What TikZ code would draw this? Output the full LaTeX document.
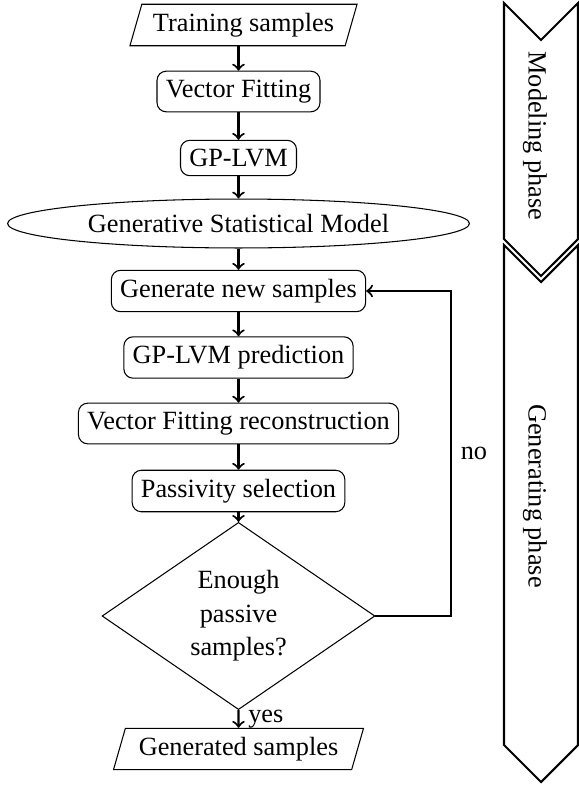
\documentclass[tikz,border=0pt]{standalone}
\usepackage{fontspec}
\setmainfont{Liberation Serif}
\usetikzlibrary{shapes.geometric}
\begin{document}
\begin{tikzpicture}[x=0.38pt,y=-0.38pt,
  proc/.style={draw,rounded corners=3.5pt,inner sep=3.33pt},
  io/.style={draw,trapezium,trapezium left angle=74,trapezium right angle=106,
    trapezium stretches body=true,minimum height=15.6pt,inner sep=3.33pt},
  decision/.style={draw,diamond,align=center,inner sep=0pt,
    minimum width=103.7pt,minimum height=69.2pt},
  model/.style={draw,ellipse,inner sep=0pt,minimum width=175.5pt,minimum height=18.6pt},
  flow/.style={->,thick},
  phasebox/.style={draw,thick,line join=miter},
  phasetext/.style={rotate=-90}]
\useasboundingbox (0,0) rectangle (579,785);

% phase chevrons
\draw[phasebox] (504,3) -- (541,40) -- (578,3) -- (578,239) -- (541,276) -- (504,239) -- cycle;
\draw[phasebox] (504,245) -- (541,282) -- (578,245) -- (578,745) -- (541,782) -- (504,745) -- cycle;
\node[phasetext] (mp) at (535,136) {Modeling phase};
\node[phasetext] (gp) at (535,496) {Generating phase};

% flow nodes
\node[io,minimum width=86.3pt] (train) at (243.5,25) {Training samples};
\node[proc] (vf) at (238.5,91.5) {Vector Fitting};
\node[proc] (gplvm) at (238.5,158) {GP-LVM};
\node[model] (gsm) at (238.5,223.5) {Generative Statistical Model};
\node[proc] (gen) at (238.5,291) {Generate new samples};
\node[proc] (gpp) at (238.5,357.5) {GP-LVM prediction};
\node[proc] (vfr) at (238.5,423.5) {Vector Fitting reconstruction};
\node[proc] (pas) at (238.5,491) {Passivity selection};
\node[decision] (dia) at (238.5,616) {Enough\\[0.7pt]passive\\[0.7pt]samples?};
\node[io,minimum width=95pt] (out) at (238.5,749) {Generated samples};

\coordinate (lp) at (451,616);

% connectors
\draw[flow] (train.south -| vf.north) -- (vf.north);
\draw[flow] (vf.south) -- (gplvm.north);
\draw[flow] (gplvm.south) -- (gsm.north);
\draw[flow] (gsm.south) -- (gen.north);
\draw[flow] (gen.south) -- (gpp.north);
\draw[flow] (gpp.south) -- (vfr.north);
\draw[flow] (vfr.south) -- (pas.north);
\draw[flow] (pas.south) -- (dia.north);
\draw[flow] (dia.south) -- node[right] {yes} (out.north);
\draw[flow] (dia.east) -- (lp) |- node[pos=0.25,right] {no} (gen.east);
\end{tikzpicture}
\end{document}
